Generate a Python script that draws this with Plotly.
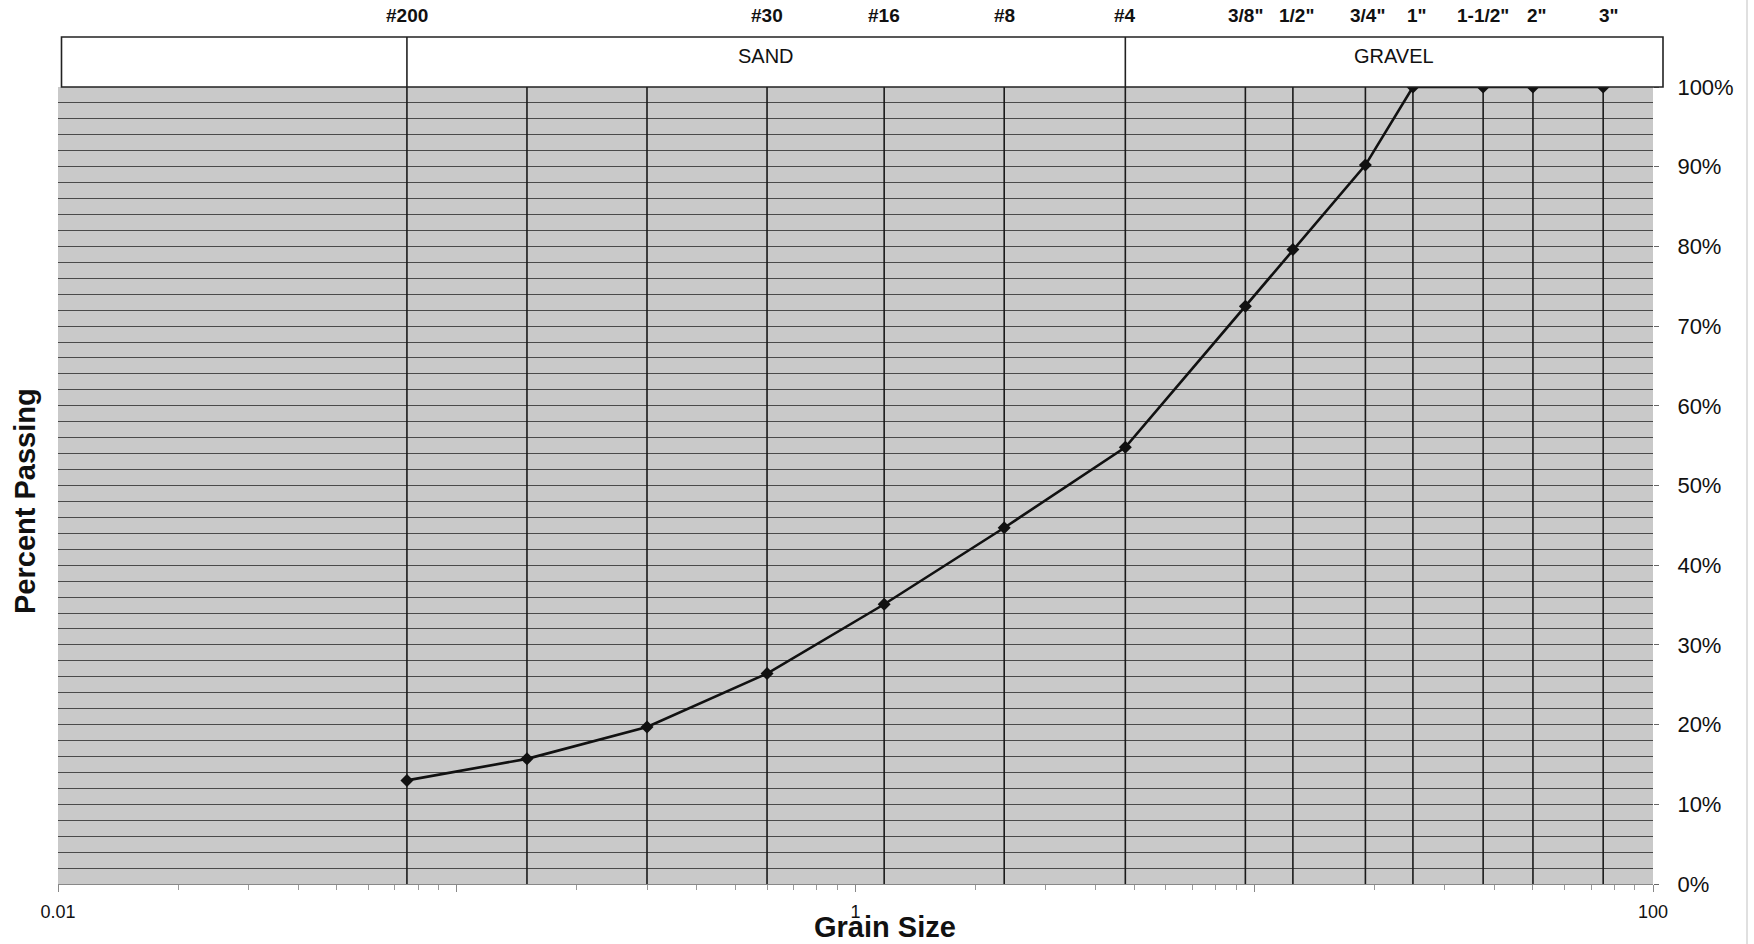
import math
import plotly.graph_objects as go

# ---- data ----
sieve_names = ["#200", "#100", "#50", "#30", "#16", "#8", "#4",
               '3/8"', '1/2"', '3/4"', '1"', '1-1/2"', '2"', '3"']
top_labels = ["#200", "", "", "#30", "#16", "#8", "#4",
              '3/8"', '1/2"', '3/4"', '1"', '1-1/2"', '2"', '3"']
sieve_mm = [0.075, 0.15, 0.3, 0.6, 1.18, 2.36, 4.75,
            9.5, 12.5, 19.0, 25.0, 37.5, 50.0, 75.0]
percent_passing = [13.0, 15.7, 19.7, 26.4, 35.1, 44.7, 54.8,
                   72.5, 79.6, 90.2, 100.0, 100.0, 100.0, 100.0]
label_shift = [0, 0, 0, 0, 0, 0, 0, 0, 4, 2, 4, 0, 4, 6]
x_tickvals = [0.01, 0.1, 1, 10, 100]
x_ticktext = ["0.01", "", "1", "", "100"]
y_tickvals = [0, 10, 20, 30, 40, 50, 60, 70, 80, 90, 100]
y_ticktext = [f"{v}%" for v in y_tickvals]
zones = [("SAND", 0.075, 4.75), ("GRAVEL", 4.75, None)]

W, H = 1754, 944
L, T = 58, 87
PR, PB = 1653, 884
R, B = W - PR, H - PB
pw, ph = PR - L, PB - T

FONT = "Liberation Sans, Arial, sans-serif"

fig = go.Figure()

# vertical sieve lines
vx, vy = [], []
for s in sieve_mm:
    vx += [s, s, None]
    vy += [0, 100, None]
fig.add_trace(go.Scatter(x=vx, y=vy, mode="lines",
                         line=dict(color="#1a1a1a", width=1.6),
                         hoverinfo="skip", showlegend=False))

# gradation curve
fig.add_trace(go.Scatter(x=sieve_mm, y=percent_passing, mode="lines+markers",
                         line=dict(color="#111111", width=2.6),
                         marker=dict(symbol="diamond", size=10, color="#111111"),
                         showlegend=False))


def py(fy):
    """figure pixel y -> paper y"""
    return (PB - fy) / ph


def px(fx):
    return (fx - L) / pw


box_top = py(37)
box_left = px(61.5)
box_right = px(1663)

shapes = [
    dict(type="rect", xref="paper", yref="paper", x0=box_left, x1=box_right,
         y0=1, y1=box_top, line=dict(color="#222222", width=1.6), fillcolor="white"),
]
for name, a, b in zones:
    shapes.append(dict(type="line", xref="x", yref="paper", x0=a, x1=a, y0=1, y1=box_top,
                       line=dict(color="#222222", width=1.6)))
# faint scan edge on the far right
shapes.append(dict(type="line", xref="paper", yref="paper",
                   x0=px(1747), x1=px(1747), y0=py(H), y1=py(0),
                   line=dict(color="#d6d6d6", width=1.5)))

annotations = []
xr = [math.log10(0.01), math.log10(100)]
for lab, s, sh in zip(top_labels, sieve_mm, label_shift):
    if lab:
        annotations.append(dict(x=math.log10(s), y=py(16), xref="x", yref="paper",
                                xanchor="center", yanchor="middle",
                                text=lab, showarrow=False, xshift=sh,
                                font=dict(family=FONT, size=19,
                                          color="#111111", weight="bold")))
for name, a, b in zones:
    la = math.log10(a)
    if b is None:
        lb = xr[0] + box_right * (xr[1] - xr[0])
    else:
        lb = math.log10(b)
    annotations.append(dict(x=(la + lb) / 2, y=py(56), xref="x", yref="paper",
                            xanchor="center", yanchor="middle",
                            text=name, showarrow=False,
                            font=dict(family=FONT, size=20, color="#111111")))
annotations.append(dict(x=px(885), y=py(927), xref="paper", yref="paper",
                        xanchor="center", yanchor="middle",
                        text="Grain Size", showarrow=False,
                        font=dict(family=FONT, size=29,
                                  color="#111111", weight="bold")))
annotations.append(dict(x=px(25), y=py(501), xref="paper", yref="paper",
                        xanchor="center", yanchor="middle",
                        text="Percent Passing", showarrow=False, textangle=-90,
                        font=dict(family=FONT, size=29,
                                  color="#111111", weight="bold")))

fig.update_layout(
    width=W, height=H,
    margin=dict(l=L, r=R, t=T, b=B, pad=0),
    paper_bgcolor="white",
    plot_bgcolor="#c9c9c9",
    shapes=shapes,
    annotations=annotations,
    showlegend=False,
)
fig.update_xaxes(
    type="log", range=xr,
    tickmode="array", tickvals=x_tickvals, ticktext=x_ticktext,
    ticks="outside", ticklen=7, tickcolor="#888888",
    showgrid=False, zeroline=False,
    showline=True, linecolor="#888888", linewidth=1,
    minor=dict(ticks="outside", ticklen=5, tickcolor="#999999", dtick="D1", showgrid=False),
    tickfont=dict(family=FONT, size=18, color="#111111"),
    ticklabelstandoff=4,
)
fig.update_yaxes(
    range=[0, 100], side="right",
    tickmode="array", tickvals=y_tickvals, ticktext=y_ticktext,
    ticks="outside", ticklen=5, tickcolor="#666666",
    showgrid=True, gridcolor="#4a4a4a", gridwidth=1,
    minor=dict(dtick=2, showgrid=True, gridcolor="#4a4a4a", gridwidth=1),
    zeroline=False, showline=False,
    tickfont=dict(family=FONT, size=22, color="#111111"),
    ticklabelstandoff=14,
)

# remove the page's default body margin so the figure fills the window exactly
fig.write_html("out.html",
               config={"displayModeBar": False},
               post_script="document.body.style.margin='0px';document.body.style.overflow='hidden';")
